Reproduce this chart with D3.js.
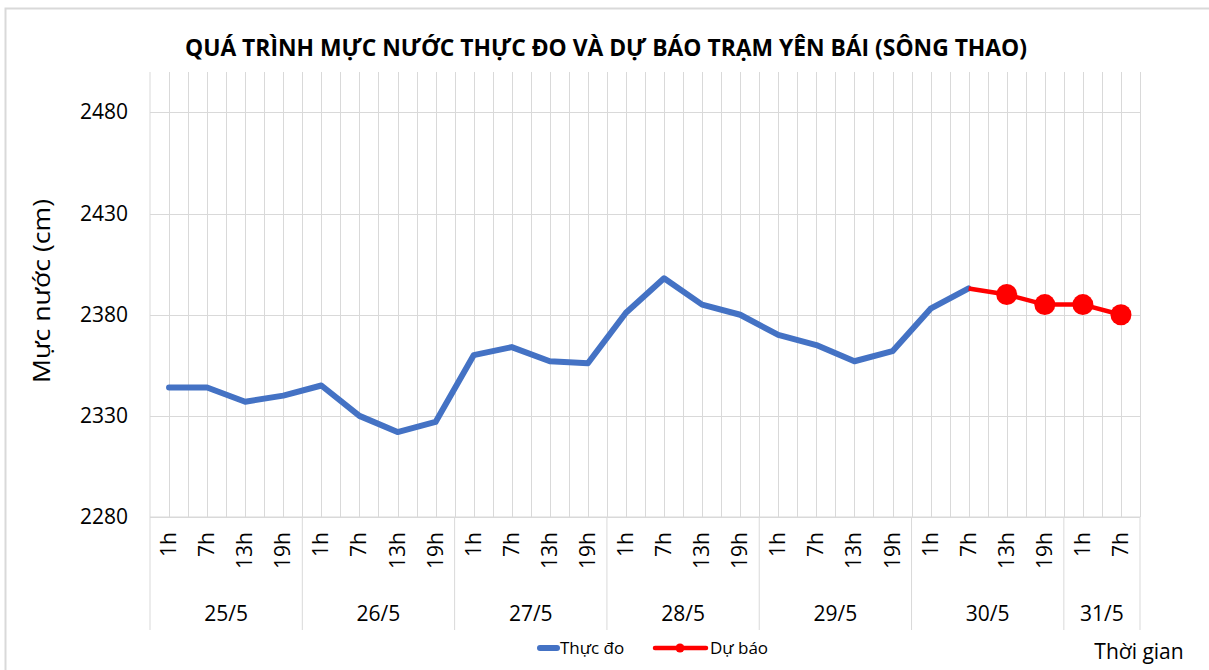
<!DOCTYPE html>
<html>
<head>
<meta charset="utf-8">
<script src="https://cdn.jsdelivr.net/npm/d3@7"></script>
<style>
  body { margin: 0; background: #fff; }
  text { font-family: "Open Sans", sans-serif; fill: #000; }
  .grid { stroke: #d9d9d9; stroke-width: 1; }
</style>
</head>
<body>
<div id="vis"></div>
<script>
// category labels
var days = ['25/5', '26/5', '27/5', '28/5', '29/5', '30/5', '31/5'],
    hoursPerDay = [4, 4, 4, 4, 4, 4, 2],
    hours = ['1h', '7h', '13h', '19h'],
    yTicks = [2280, 2330, 2380, 2430, 2480];

// measured water level (cm), 25/5 1h -> 30/5 7h
var thucDo = [2344, 2344, 2337, 2340, 2345, 2330, 2322, 2327,
              2360, 2364, 2357, 2356, 2381, 2398, 2385, 2380,
              2370, 2365, 2357, 2362, 2383, 2393];
// forecast, 30/5 7h -> 31/5 7h
var duBao = [2393, 2390, 2385, 2385, 2380];
var duBaoStart = 21; // index of 30/5 7h

var w = 1209,
    h = 670,
    plotLeft = 150,
    plotRight = 1140,
    plotTop = 72,
    plotBottom = 517;

// build flat category list
var cats = [];
days.forEach(function(d, i) {
    for (var j = 0; j < hoursPerDay[i]; j++) cats.push({day: d, hour: hours[j], di: i});
});

var x = d3.scaleBand().domain(d3.range(cats.length)).range([plotLeft, plotRight]),
    y = d3.scaleLinear().domain([2280, 2500]).range([plotBottom, plotTop]);
var bw = x.bandwidth();

var vis = d3.select("#vis")
            .append("svg")
            .attr("width", w)
            .attr("height", h);

// outer frame
vis.append("rect")
   .attr("x", 5.5).attr("y", 8.5)
   .attr("width", w + 10).attr("height", h + 10)
   .attr("fill", "none")
   .attr("stroke", "#d9d9d9")
   .attr("stroke-width", 2);

// title
vis.append("text")
   .attr("x", 606)
   .attr("y", 56)
   .attr("text-anchor", "middle")
   .attr("font-size", 23)
   .attr("font-weight", "bold")
   .attr("textLength", 842)
   .attr("lengthAdjust", "spacingAndGlyphs")
   .text("QUÁ TRÌNH MỰC NƯỚC THỰC ĐO VÀ DỰ BÁO TRẠM YÊN BÁI (SÔNG THAO)");

/**********
GRID LINES
**********/

// vertical: category boundaries and centres
var vx = [];
for (var k = 1; k <= cats.length * 2; k++) vx.push(plotLeft + k * bw / 2);
vis.selectAll(".vgrid")
   .data(vx)
   .enter()
   .append("line")
   .attr("class", "grid")
   .attr("x1", function(d) { return Math.round(d) + 0.5; })
   .attr("x2", function(d) { return Math.round(d) + 0.5; })
   .attr("y1", plotTop)
   .attr("y2", plotBottom);

// horizontal
vis.selectAll(".hgrid")
   .data(yTicks)
   .enter()
   .append("line")
   .attr("class", "grid")
   .attr("x1", plotLeft)
   .attr("x2", plotRight)
   .attr("y1", function(d) { return Math.round(y(d)) + 0.5; })
   .attr("y2", function(d) { return Math.round(y(d)) + 0.5; })
   .attr("stroke-width", 2);

// y labels
vis.selectAll(".yLabel")
   .data(yTicks)
   .enter()
   .append("text")
   .attr("x", 128)
   .attr("y", function(d) { return y(d); })
   .attr("dy", 7)
   .attr("text-anchor", "end")
   .attr("font-size", 21)
   .attr("fill", "#222")
   .text(String);

vis.append("text")
   .attr("transform", "translate(50,291) rotate(-90)")
   .attr("text-anchor", "middle")
   .attr("font-size", 23)
   .attr("textLength", 184)
   .attr("lengthAdjust", "spacingAndGlyphs")
   .text("Mực nước (cm)");

/************************
MULTI LEVEL CATEGORY AXIS
************************/

// day boundaries
var bounds = [0];
var acc = 0;
hoursPerDay.forEach(function(n) { acc += n; bounds.push(acc); });
function bx(b) { return b == cats.length ? plotRight : x(b); }

vis.selectAll(".dayLine")
   .data(bounds)
   .enter()
   .append("line")
   .attr("class", "grid")
   .attr("stroke-width", 2)
   .attr("x1", bx)
   .attr("x2", bx)
   .attr("y1", function(d) { return d == 0 ? plotTop : plotBottom; })
   .attr("y2", 630);

vis.append("line")
   .attr("class", "grid")
   .attr("stroke-width", 2)
   .attr("x1", plotLeft).attr("x2", plotRight)
   .attr("y1", plotBottom).attr("y2", plotBottom);

// hour labels
vis.selectAll(".hLabel")
   .data(cats)
   .enter()
   .append("text")
   .attr("transform", function(d, i) {
       return "translate(" + (x(i) + bw / 2 + 7) + ",532) rotate(-90)";
   })
   .attr("text-anchor", "end")
   .attr("font-size", 21)
   .text(function(d) { return d.hour; });

// day labels
vis.selectAll(".dLabel")
   .data(days)
   .enter()
   .append("text")
   .attr("x", function(d, i) { return (bx(bounds[i]) + bx(bounds[i + 1])) / 2; })
   .attr("y", 621)
   .attr("text-anchor", "middle")
   .attr("font-size", 21)
   .text(String);

vis.append("text")
   .attr("x", 1139)
   .attr("y", 659)
   .attr("text-anchor", "middle")
   .attr("font-size", 21)
   .text("Thời gian");

/*****
LINES
*****/

var line = d3.line()
             .x(function(d) { return x(d.i) + bw / 2; })
             .y(function(d) { return y(d.v); });

var obs = thucDo.map(function(v, i) { return {i: i, v: v}; });
var fc = duBao.map(function(v, i) { return {i: duBaoStart + i, v: v}; });

vis.append("path")
   .datum(obs)
   .attr("d", line)
   .attr("fill", "none")
   .attr("stroke", "#4472c4")
   .attr("stroke-width", 6)
   .attr("stroke-linejoin", "round")
   .attr("stroke-linecap", "round");

vis.append("path")
   .datum(fc)
   .attr("d", line)
   .attr("fill", "none")
   .attr("stroke", "#ff0000")
   .attr("stroke-width", 4.5)
   .attr("stroke-linejoin", "round");

vis.selectAll(".marker")
   .data(fc.slice(1))
   .enter()
   .append("circle")
   .attr("cx", function(d) { return x(d.i) + bw / 2; })
   .attr("cy", function(d) { return y(d.v); })
   .attr("r", 10.5)
   .attr("fill", "#ff0000");

/******
LEGEND
******/

vis.append("line")
   .attr("x1", 540).attr("x2", 557)
   .attr("y1", 648).attr("y2", 648)
   .attr("stroke", "#4472c4")
   .attr("stroke-width", 6)
   .attr("stroke-linecap", "round");
vis.append("text")
   .attr("x", 560).attr("y", 654)
   .attr("font-size", 17)
   .text("Thực đo");

vis.append("line")
   .attr("x1", 655).attr("x2", 706)
   .attr("y1", 648).attr("y2", 648)
   .attr("stroke", "#ff0000")
   .attr("stroke-width", 4.5)
   .attr("stroke-linecap", "round");
vis.append("circle")
   .attr("cx", 680).attr("cy", 648)
   .attr("r", 4.5)
   .attr("fill", "#ff0000");
vis.append("text")
   .attr("x", 710).attr("y", 654)
   .attr("font-size", 17)
   .text("Dự báo");
</script>
</body>
</html>
